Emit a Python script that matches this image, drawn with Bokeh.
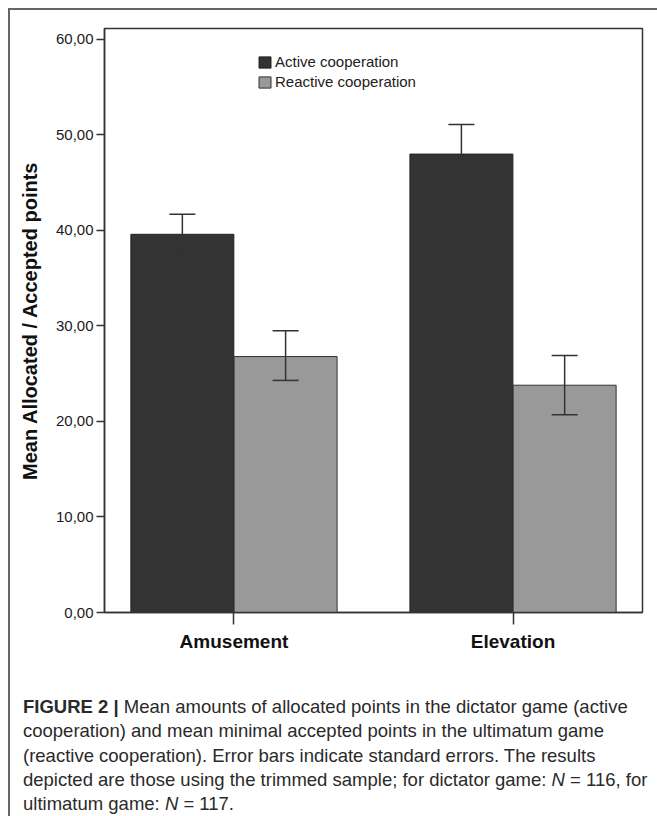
from bokeh.plotting import figure
from bokeh.models import (ColumnDataSource, FactorRange, FixedTicker, Whisker, TeeHead,
                          Div, Legend)
from bokeh.transform import dodge
from bokeh.layouts import column
from bokeh.embed import file_html
from bokeh.resources import INLINE

# ---- data ----
categories = ["Amusement", "Elevation"]
series_names = ["Active cooperation", "Reactive cooperation"]
active_mean = [39.6, 48.0]
active_upper = [41.7, 51.1]
active_lower = [37.4, 44.9]
reactive_mean = [26.8, 23.8]
reactive_upper = [29.5, 26.9]
reactive_lower = [24.3, 20.7]
y_ticks = [0, 10, 20, 30, 40, 50, 60]
y_tick_labels = ["0,00", "10,00", "20,00", "30,00", "40,00", "50,00", "60,00"]
y_title = "Mean Allocated / Accepted points"

FONT = "Liberation Sans"
DARK = "#333333"
LIGHT = "#999999"

src = ColumnDataSource(dict(cat=categories,
                            act=active_mean, act_up=active_upper, act_lo=active_lower,
                            rea=reactive_mean, rea_up=reactive_upper, rea_lo=reactive_lower))

p = figure(x_range=FactorRange(factors=categories, range_padding=-0.036),
           y_range=(0, 61.15), width=639, height=662,
           output_backend="svg", toolbar_location=None,
           min_border_left=94, min_border_right=7, min_border_top=18, min_border_bottom=60)

off = 0.185
bw = 0.369
r1 = p.vbar(x=dodge("cat", -off, range=p.x_range), top="act", width=bw, source=src,
            fill_color=DARK, line_color="#222222", line_width=1)
r2 = p.vbar(x=dodge("cat", off, range=p.x_range), top="rea", width=bw, source=src,
            fill_color=LIGHT, line_color="#333333", line_width=1)

for key, sh in (("act", -off), ("rea", off)):
    w = Whisker(source=src, base=dodge("cat", sh, range=p.x_range),
                upper=key + "_up", lower=key + "_lo",
                line_color="#333333", line_width=1.5, level="overlay",
                upper_head=TeeHead(size=26, line_color="#333333", line_width=1.5),
                lower_head=TeeHead(size=26, line_color="#333333", line_width=1.5))
    p.add_layout(w)

legend = Legend(items=[(series_names[0], [r1]), (series_names[1], [r2])],
                location=(153, 522), padding=0, margin=0, spacing=3,
                glyph_width=15, glyph_height=14, label_height=16,
                label_standoff=3, border_line_color=None, background_fill_alpha=0,
                label_text_font=FONT, label_text_font_size="15px", label_text_color="#222222")
p.add_layout(legend, "center")

p.xgrid.grid_line_color = None
p.ygrid.grid_line_color = None
p.outline_line_color = "#333333"
p.outline_line_width = 1.5

p.yaxis.ticker = FixedTicker(ticks=y_ticks)
p.yaxis.major_label_overrides = dict(zip(y_ticks, y_tick_labels))
p.yaxis.minor_tick_line_color = None
p.yaxis.major_tick_out = 8
p.yaxis.major_tick_in = 0
p.yaxis.major_label_text_font = FONT
p.yaxis.major_label_text_font_size = "15px"
p.yaxis.major_label_text_color = "#1a1a1a"
p.yaxis.major_label_standoff = 3
p.yaxis.axis_label = y_title
p.yaxis.axis_label_text_font = FONT
p.yaxis.axis_label_text_font_style = "bold"
p.yaxis.axis_label_text_font_size = "20px"
p.yaxis.axis_label_text_color = "#111111"
p.yaxis.axis_label_standoff = 12

p.xaxis.major_tick_out = 12
p.xaxis.major_tick_in = 0
p.xaxis.major_label_text_font = FONT
p.xaxis.major_label_text_font_style = "bold"
p.xaxis.major_label_text_font_size = "19px"
p.xaxis.major_label_text_color = "#111111"
p.xaxis.major_label_standoff = 6
for ax in (p.xaxis, p.yaxis):
    ax.axis_line_color = "#333333"
    ax.axis_line_width = 1.5
    ax.major_tick_line_color = "#333333"
    ax.major_tick_line_width = 1.5

caption = Div(text=(
    '<b>FIGURE 2 |</b> Mean amounts of allocated points in the dictator game (active<br>'
    'cooperation) and mean minimal accepted points in the ultimatum game<br>'
    '(reactive cooperation). Error bars indicate standard errors. The results<br>'
    'depicted are those using the trimmed sample; for dictator game: <i>N</i> = 116, for<br>'
    'ultimatum game: <i>N</i> = 117.'),
    width=639, height=144,
    styles={"font-family": FONT, "font-size": "18.5px", "line-height": "24.3px",
            "color": "#2a2a2a", "white-space": "nowrap", "padding-left": "8px",
            "padding-top": "18px", "box-sizing": "border-box"})

layout = column(p, caption, spacing=0, margin=(8, 0, 0, 8),
                styles={"border-top": "2px solid #666666", "border-left": "2px solid #666666"})

open("out.html", "w").write(file_html(layout, INLINE))
